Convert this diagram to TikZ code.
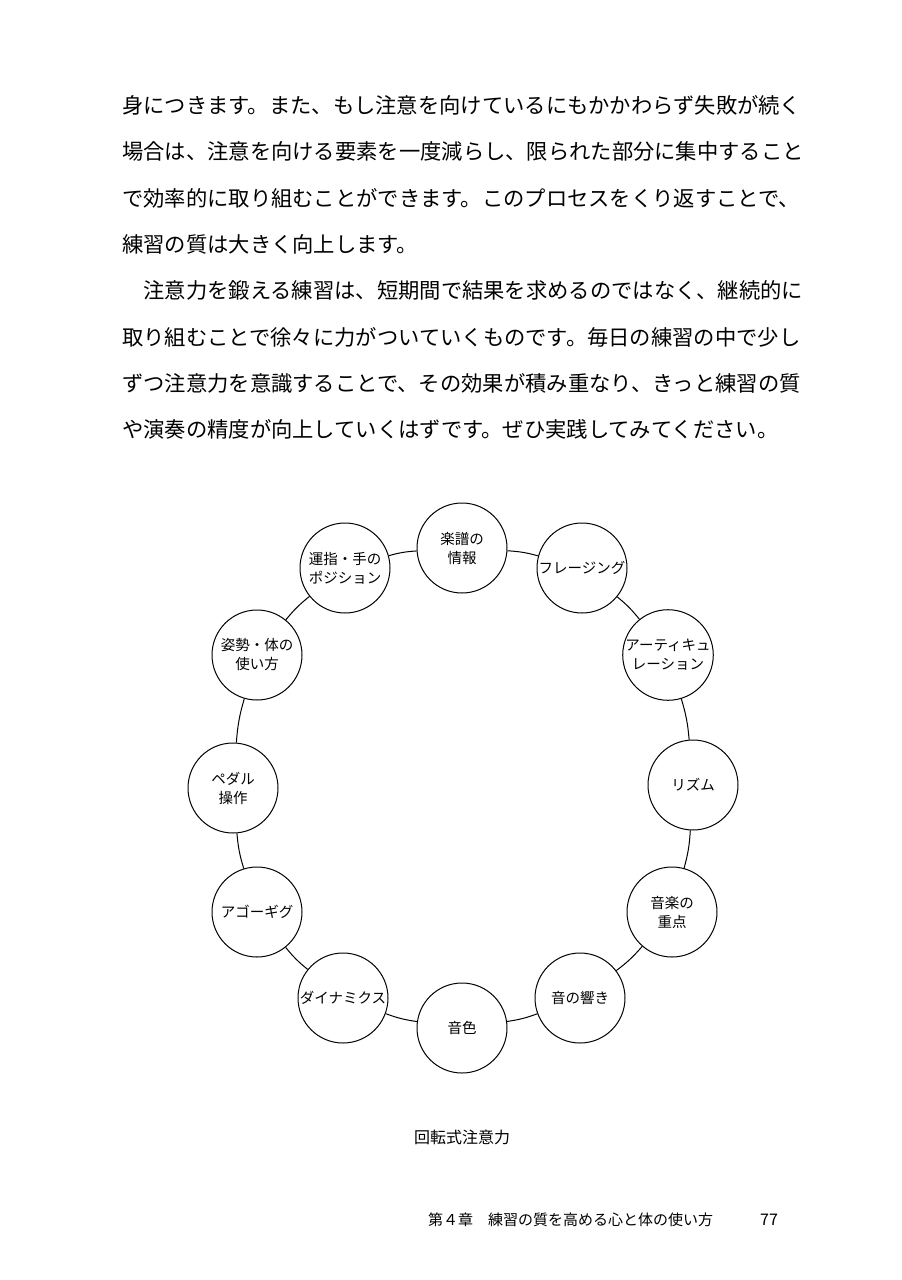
\documentclass[tikz,border=0pt]{standalone}
\usepackage{fontspec}
\setmainfont{Noto Sans CJK JP}
\begin{document}
\begin{tikzpicture}[x=1pt,y=-1pt,
  body/.style={anchor=west,inner sep=0pt,font=\fontsize{21.3}{24}\selectfont},
  circ/.style={circle,draw,line width=1pt,fill=white,minimum size=90pt,inner sep=0pt,align=center,font=\fontsize{14.5}{19}\selectfont},
  link/.style={line width=1pt}]
\useasboundingbox (0,0) rectangle (902,1280);
\node[body] (l1) at (122,105) {身につきます。また、もし注意を向けているにもかかわらず失敗が続く};
\node[body] (l2) at (122,151) {場合は、注意を向ける要素を一度減らし、限られた部分に集中すること};
\node[body] (l3) at (122,198) {で効率的に取り組むことができます。このプロセスをくり返すことで、};
\node[body] (l4) at (122,244) {練習の質は大きく向上します。};
\node[body] (l5) at (122,290) {　注意力を鍛える練習は、短期間で結果を求めるのではなく、継続的に};
\node[body] (l6) at (122,337) {取り組むことで徐々に力がついていくものです。毎日の練習の中で少し};
\node[body] (l7) at (122,383) {ずつ注意力を意識することで、その効果が積み重なり、きっと練習の質};
\node[body] (l8) at (122,429) {や演奏の精度が向上していくはずです。ぜひ実践してみてください。};
\path (462,548) node[circ] (n1) {楽譜の\\情報}
 (582,568) node[circ] (n2) {フレージング}
 (668,655) node[circ] (n3) {アーティキュ\\レーション}
 (693,785) node[circ] (n4) {リズム}
 (672,912) node[circ] (n5) {音楽の\\重点}
 (580,998) node[circ] (n6) {音の響き}
 (462,1028) node[circ] (n7) {音色}
 (343,998) node[circ] (n8) {ダイナミクス}
 (257,912) node[circ] (n9) {アゴーギグ}
 (233,788) node[circ] (n10) {ペダル\\操作}
 (257,655) node[circ] (n11) {姿勢・体の\\使い方}
 (345,568) node[circ] (n12) {運指・手の\\ポジション};
\foreach \a/\b in {1/2,2/3,3/4,4/5,5/6,6/7,7/8,8/9,9/10,10/11,11/12,12/1}
  \draw[link] (n\a) to[bend left=6] (n\b);
\node[font=\fontsize{16}{20}\selectfont] (cap) at (462,1137) {回転式注意力};
\node[anchor=west,font=\fontsize{15}{18}\selectfont,inner sep=0pt] (ft) at (428,1220) {第４章　練習の質を高める心と体の使い方};
\node[anchor=west,font=\fontsize{16}{18}\selectfont,inner sep=0pt] (pg) at (760,1220) {77};
\end{tikzpicture}
\end{document}
